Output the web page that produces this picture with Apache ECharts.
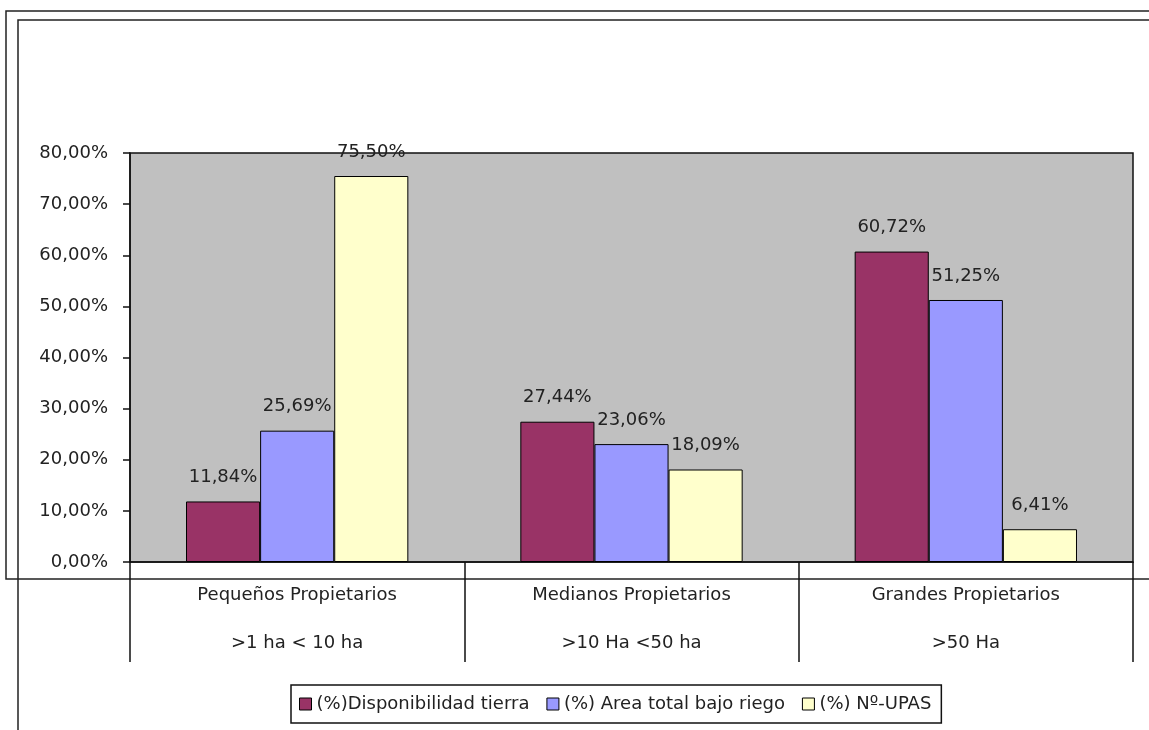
<!DOCTYPE html>
<html>
<head>
<meta charset="utf-8">
<script src="https://cdn.jsdelivr.net/npm/echarts@6/dist/echarts.min.js"></script>
<style>
html, body { margin: 0; padding: 0; background: #fff; }
#chart { width: 1149px; height: 730px; }
</style>
</head>
<body>
<div id="chart"></div>
<script>
// categorias (dos lineas) y series
let catNames = ['Pequeños Propietarios', 'Medianos Propietarios', 'Grandes Propietarios'];
let catRanges = ['>1 ha < 10 ha', '>10 Ha <50 ha', '>50 Ha'];
let seriesNames = ['(%)Disponibilidad tierra', '(%) Area total bajo riego', '(%) Nº-UPAS'];
let disponibilidad = [11.84, 27.44, 60.72];
let areaRiego = [25.69, 23.06, 51.25];
let upas = [75.50, 18.09, 6.41];
let colors = ['#993366', '#9999ff', '#ffffcc'];

let font = 'DejaVu Sans, Verdana, sans-serif';
let fsize = 18;

function pct(v) {
    return v.toFixed(2).replace('.', ',') + '%';
}

let cats = [];
for (let i = 0; i < catNames.length; i++) {
    cats.push(catNames[i] + '\n' + catRanges[i]);
}

let values = [disponibilidad, areaRiego, upas];
let series = [];
for (let i = 0; i < values.length; i++) {
    series.push({
        name: seriesNames[i],
        type: 'bar',
        data: values[i],
        barGap: '0%',
        barCategoryGap: '33.5%',
        itemStyle: { color: colors[i], borderColor: '#000', borderWidth: 1 },
        label: {
            show: true,
            position: 'top',
            distance: 15,
            fontFamily: font,
            fontSize: fsize,
            color: '#222',
            formatter: function (p) { return pct(p.value); }
        }
    });
}

let myChart = echarts.init(document.getElementById('chart'));
let option = {
    animation: false,
    textStyle: { fontFamily: font },
    graphic: [
        // marcos del documento
        { type: 'rect', shape: { x: 6, y: 11, width: 1170, height: 568 },
          style: { fill: 'none', stroke: '#222', lineWidth: 1.5 }, z: -10 },
        { type: 'rect', shape: { x: 18, y: 20, width: 1170, height: 740 },
          style: { fill: 'none', stroke: '#222', lineWidth: 1.5 }, z: -10 }
    ],
    grid: {
        left: 130, right: 16, top: 153, bottom: 168,
        show: true,
        backgroundColor: '#c0c0c0',
        borderColor: '#111',
        borderWidth: 1.5
    },
    legend: {
        left: 291, top: 685,
        padding: [10, 10, 10, 8],
        borderColor: '#111',
        borderWidth: 1.5,
        backgroundColor: '#fff',
        itemGap: 17,
        itemWidth: 12,
        itemHeight: 12,
        icon: 'rect',
        itemStyle: { borderColor: '#000', borderWidth: 1 },
        textStyle: { fontFamily: font, fontSize: fsize, color: '#222' },
        data: seriesNames
    },
    xAxis: {
        type: 'category',
        data: cats,
        axisLine: { lineStyle: { color: '#111', width: 1.5 } },
        axisTick: { show: true, interval: 0, length: 100, lineStyle: { color: '#111', width: 1.5 } },
        axisLabel: {
            interval: 0,
            margin: 9,
            fontFamily: font,
            fontSize: fsize,
            color: '#222',
            lineHeight: 48
        }
    },
    yAxis: {
        type: 'value',
        min: 0, max: 80, interval: 10,
        splitLine: { show: false },
        axisLine: { show: true, lineStyle: { color: '#111', width: 1.5 } },
        axisTick: { show: true, length: 7, lineStyle: { color: '#111', width: 1.5 } },
        axisLabel: {
            margin: 22,
            fontFamily: font,
            fontSize: fsize,
            color: '#222',
            formatter: function (v) { return pct(v); }
        }
    },
    series: series
};

myChart.setOption(option, true);
</script>
</body>
</html>
